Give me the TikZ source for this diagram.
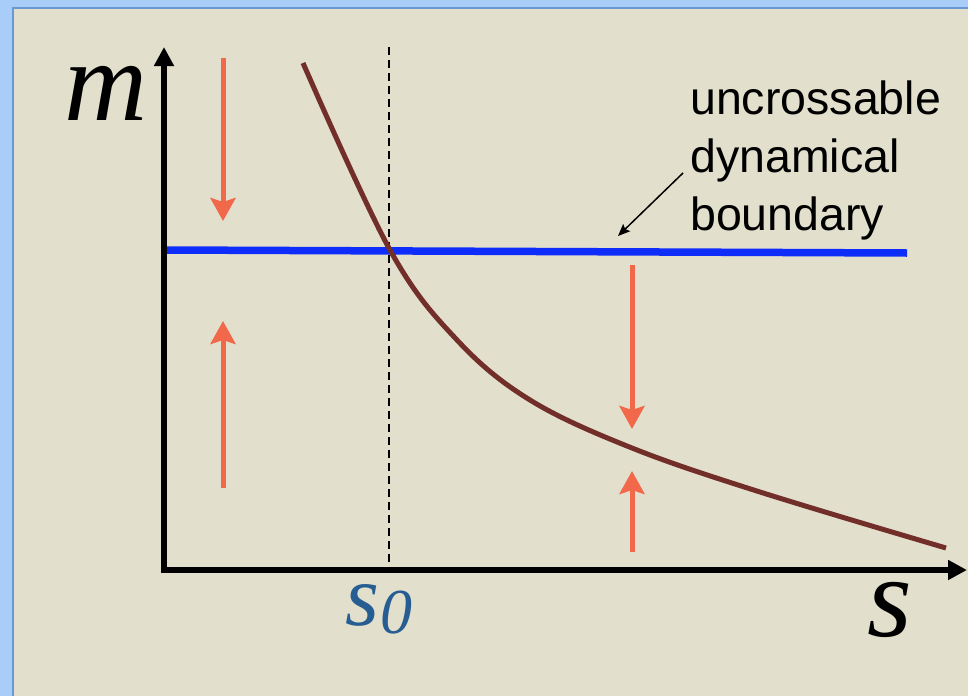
\documentclass[tikz,border=0pt]{standalone}
\usepackage{fontspec}
\setmainfont{Liberation Serif}
\newfontfamily\labelsans{Liberation Sans}
\usetikzlibrary{arrows.meta}
\definecolor{bgbeige}{HTML}{E2DFCC}
\definecolor{framelight}{HTML}{A9CDF9}
\definecolor{framedark}{HTML}{6A98D2}
\definecolor{curvebrown}{HTML}{722F2A}
\definecolor{boundblue}{HTML}{0F2DFA}
\definecolor{flowred}{HTML}{F2684A}
\definecolor{sblue}{HTML}{265D92}
\tikzset{
  axisline/.style={line width=5.5pt, -{Triangle[length=19pt,width=19pt]}},
  flowarrow/.style={flowred, line width=5pt, -{Stealth[length=23pt,width=25pt,inset=4pt]}},
  pointer/.style={black, line width=1.5pt, -{Stealth[length=12pt,width=10pt,inset=2pt]}},
  bigital/.style={font=\fontsize{115}{115}\selectfont\itshape, inner sep=0pt},
  annot/.style={font=\labelsans\fontsize{46.5}{58}\selectfont, align=left, inner sep=0pt}
}
\begin{document}
\begin{tikzpicture}[x=1pt,y=-1pt]
\useasboundingbox (0,0) rectangle (968,696);
% frame
\fill[framelight] (0,0) rectangle (968,696);
\fill[bgbeige] (13,8) rectangle (968,696);
\draw[framedark, line width=1.5pt] (13,696) -- (13,8) -- (968,8);
% coordinates
\coordinate (ytip) at (164,47);
\coordinate (xtip) at (967,570);
% dashed s0 line
\draw[black, line width=1.5pt, dash pattern=on 8pt off 5pt] (389,47) -- (389,570);
% boundary
\draw[boundblue, line width=7.5pt] (167,250) -- (907,253);
% curve
\draw[curvebrown, line width=5pt] plot[smooth, tension=0.6] coordinates {(303,63) (390,250) (457,340) (530,400) (632,448) (760,492) (946,548)};
% axes
\draw[axisline] (164,573) -- (ytip);
\draw[axisline] (161,570) -- (xtip);
% flow arrows
\draw[flowarrow] (223,58) -- (223,221);
\draw[flowarrow] (223,488) -- (223,321);
\draw[flowarrow] (632,265) -- (632,429);
\draw[flowarrow] (632,552) -- (632,471);
% labels
\node[bigital, anchor=base] (mlab) at (106,120) {m};
\node[bigital, anchor=base] (slab) at (890,636) {s};
\node[anchor=base, inner sep=0pt, text=sblue] (s0lab) at (379,625)
  {\fontsize{87}{87}\selectfont\itshape s\hspace{2pt}\raisebox{-8pt}{\fontsize{64}{64}\selectfont 0}};
\node[annot, anchor=base west] (note) at (690,230) {uncrossable\\dynamical\\boundary};
\coordinate (pstart) at (683,173);
\coordinate (pend) at (618,236);
\draw[pointer] (pstart) -- (pend);
\end{tikzpicture}
\end{document}
